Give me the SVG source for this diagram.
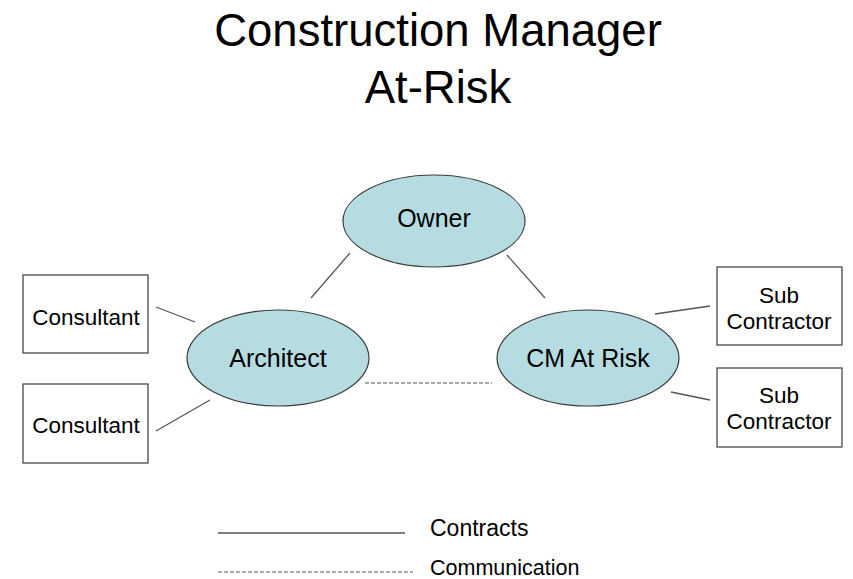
<svg xmlns="http://www.w3.org/2000/svg" width="853" height="579" viewBox="0 0 853 579">
  <style>
    text { font-family: "Liberation Sans", Arial, sans-serif; fill: #000; text-anchor: middle; }
    .title { font-size: 45.5px; }
    .lbl { font-size: 25px; }
    .box-lbl { font-size: 22.5px; }
    .legend { font-size: 23px; text-anchor: start; }
    .oval { fill: #b5dde1; stroke: #3a3a3a; stroke-width: 1.2; }
    .box { fill: #fff; stroke: #3a3a3a; stroke-width: 1.2; }
    .contract { stroke: #555; stroke-width: 1.3; fill: none; }
    .comm { stroke: #555; stroke-width: 1.2; stroke-dasharray: 4 2; fill: none; }
  </style>
  <rect width="853" height="579" fill="#fff"/>

  <text class="title" x="438" y="46">Construction Manager</text>
  <text class="title" x="438" y="103">At-Risk</text>

  <g id="connectors">
    <line class="contract" x1="350" y1="253" x2="311" y2="298"/>
    <line class="contract" x1="507" y1="255" x2="545" y2="298"/>
    <line class="contract" x1="156" y1="307" x2="195" y2="322"/>
    <line class="contract" x1="156" y1="431" x2="210" y2="400"/>
    <line class="contract" x1="655" y1="314" x2="710" y2="306"/>
    <line class="contract" x1="671" y1="392" x2="710" y2="400"/>
    <line class="comm" x1="365" y1="383" x2="492" y2="383"/>
  </g>

  <g id="owner">
    <ellipse class="oval" cx="434" cy="221" rx="91" ry="46"/>
    <text class="lbl" x="434" y="227">Owner</text>
  </g>
  <g id="architect">
    <ellipse class="oval" cx="278" cy="358" rx="91" ry="48"/>
    <text class="lbl" x="278" y="367">Architect</text>
  </g>
  <g id="cm-at-risk">
    <ellipse class="oval" cx="588" cy="358" rx="91" ry="48"/>
    <text class="lbl" x="588" y="367">CM At Risk</text>
  </g>

  <g id="consultant-1">
    <rect class="box" x="23" y="275" width="125" height="78"/>
    <text class="box-lbl" x="86" y="325">Consultant</text>
  </g>
  <g id="consultant-2">
    <rect class="box" x="23" y="384" width="125" height="79"/>
    <text class="box-lbl" x="86" y="433">Consultant</text>
  </g>

  <g id="sub-contractor-1">
    <rect class="box" x="717" y="267" width="125" height="78"/>
    <text class="box-lbl" x="779" y="303">Sub</text>
    <text class="box-lbl" x="779" y="329">Contractor</text>
  </g>
  <g id="sub-contractor-2">
    <rect class="box" x="717" y="368" width="125" height="79"/>
    <text class="box-lbl" x="779" y="403">Sub</text>
    <text class="box-lbl" x="779" y="429">Contractor</text>
  </g>

  <g id="legend">
    <line class="contract" x1="218" y1="533" x2="405" y2="533"/>
    <text class="legend" x="430" y="536">Contracts</text>
    <line class="comm" x1="218" y1="572" x2="413" y2="572"/>
    <text class="legend" x="430" y="575" style="font-size:21.5px">Communication</text>
  </g>
</svg>
